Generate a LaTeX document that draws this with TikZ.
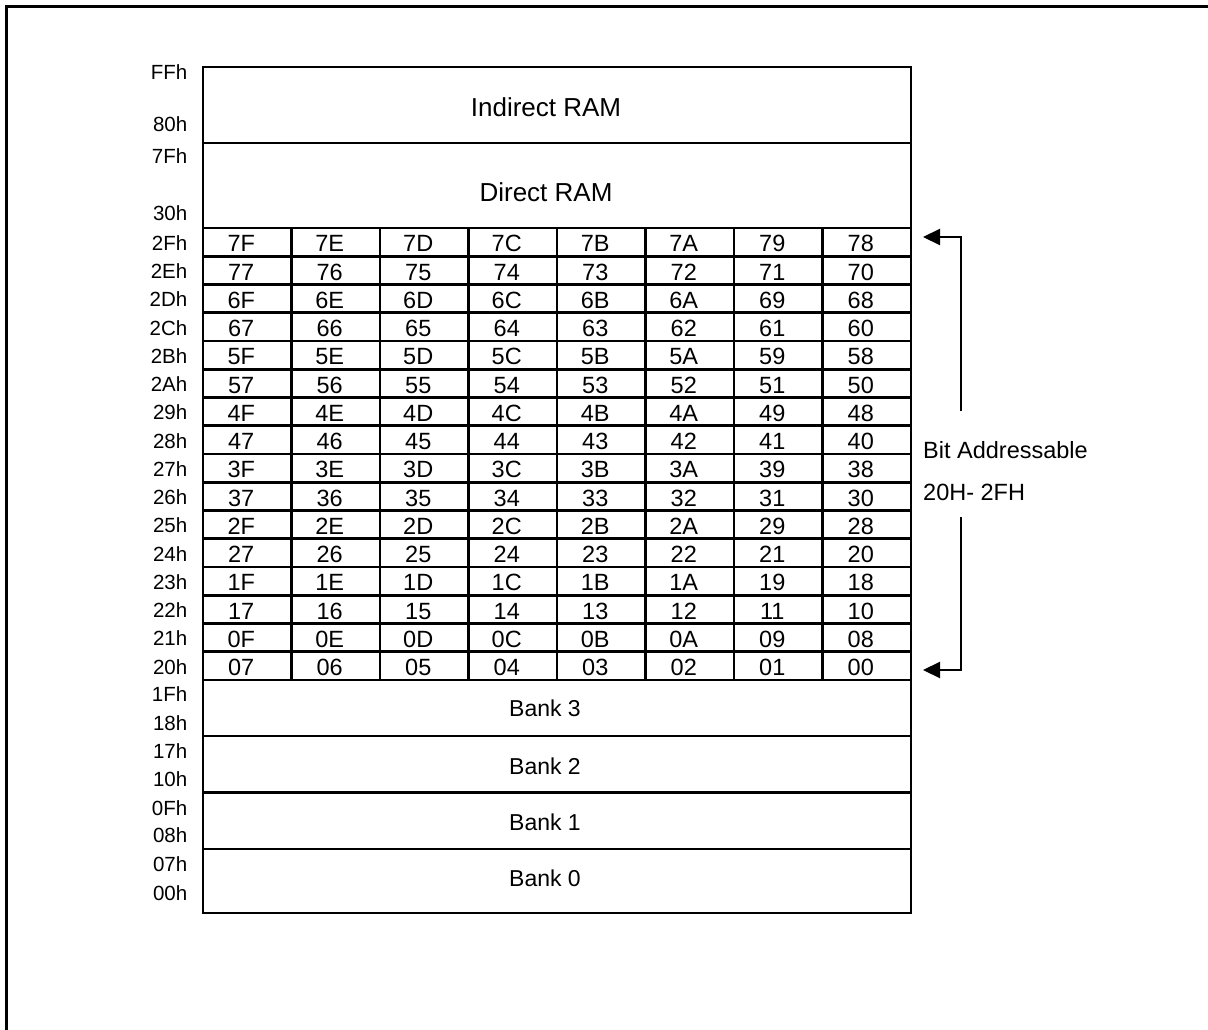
\documentclass[tikz,border=0pt]{standalone}
\usepackage{fontspec}
\setmainfont{Liberation Sans}
\usetikzlibrary{arrows.meta}
\begin{document}
\begin{tikzpicture}[x=1pt,y=-1pt,
  frame/.style={line width=3pt},
  boxline/.style={line width=2.2pt},
  rowline/.style={line width=2.8pt},
  celltxt/.style={anchor=base, inner sep=0pt, font=\fontsize{23.5}{28}\selectfont},
  addr/.style={anchor=base east, inner sep=0pt, font=\fontsize{20.5}{24}\selectfont},
  bigtxt/.style={anchor=base, inner sep=0pt, font=\fontsize{26}{30}\selectfont},
  banktxt/.style={anchor=base, inner sep=0pt, font=\fontsize{23}{28}\selectfont},
  sidetxt/.style={anchor=base west, inner sep=0pt, font=\fontsize{23.5}{28}\selectfont},
  arr/.style={line width=2.2pt, -{Triangle[length=17pt,width=16pt]}}]
\useasboundingbox (0,0) rectangle (1208,1030);
% outer frame
\draw[frame] (6.7,1030) -- (6.7,6.2) -- (1208,6.2);
% main box
\draw[boxline] (203,67) rectangle (911,913);
\draw[boxline] (203,143) -- (911,143);
\draw[boxline] (203,736) -- (911,736);
\draw[boxline] (203,792.5) -- (911,792.5);
\draw[boxline] (203,849) -- (911,849);
% grid
\foreach \k in {0,...,16} {\draw[rowline] (203,{228+\k*28.25}) -- (911,{228+\k*28.25});}
\foreach \c in {1,...,7} {\draw[boxline] ({203+\c*88.5},228) -- ({203+\c*88.5},680);}
% big labels
\node[bigtxt] (ind) at (546,116.7) {Indirect RAM};
\node[bigtxt] (dir) at (546,201.7) {Direct RAM};
\node[banktxt] (b3) at (545,716.7) {Bank 3};
\node[banktxt] (b2) at (545,774) {Bank 2};
\node[banktxt] (b1) at (545,830) {Bank 1};
\node[banktxt] (b0) at (545,886.7) {Bank 0};
% address labels
\node[addr] (aFF) at (187.5,80) {FFh};
\node[addr] (a80) at (187.5,131.7) {80h};
\node[addr] (a7F) at (187.5,164) {7Fh};
\node[addr] (a30) at (187.5,220.7) {30h};
\node[addr] (a1F) at (187.5,701.7) {1Fh};
\node[addr] (a18) at (187.5,730) {18h};
\node[addr] (a17) at (187.5,758) {17h};
\node[addr] (a10) at (187.5,786.7) {10h};
\node[addr] (a0F) at (187.5,815) {0Fh};
\node[addr] (a08) at (187.5,842.7) {08h};
\node[addr] (a07) at (187.5,871.7) {07h};
\node[addr] (a00) at (187.5,900) {00h};
% bit cells
\foreach [count=\k from 0] \lab/\r in {
  2Fh/{7F,7E,7D,7C,7B,7A,79,78},
  2Eh/{77,76,75,74,73,72,71,70},
  2Dh/{6F,6E,6D,6C,6B,6A,69,68},
  2Ch/{67,66,65,64,63,62,61,60},
  2Bh/{5F,5E,5D,5C,5B,5A,59,58},
  2Ah/{57,56,55,54,53,52,51,50},
  29h/{4F,4E,4D,4C,4B,4A,49,48},
  28h/{47,46,45,44,43,42,41,40},
  27h/{3F,3E,3D,3C,3B,3A,39,38},
  26h/{37,36,35,34,33,32,31,30},
  25h/{2F,2E,2D,2C,2B,2A,29,28},
  24h/{27,26,25,24,23,22,21,20},
  23h/{1F,1E,1D,1C,1B,1A,19,18},
  22h/{17,16,15,14,13,12,11,10},
  21h/{0F,0E,0D,0C,0B,0A,09,08},
  20h/{07,06,05,04,03,02,01,00}} {
  \node[addr] (r\k) at (187.5,{228+(\k+1)*28.25-6}) {\lab};
  \foreach [count=\c from 0] \v in \r {
    \node[celltxt] (c\k-\c) at ({203+(\c+0.5)*88.5-6},{228+(\k+1)*28.25-4.5}) {\v};
  }
}
% side label and arrows
\node[sidetxt] (bitA) at (923,458.3) {Bit Addressable};
\node[sidetxt] (bitR) at (923,500) {20H- 2FH};
\coordinate (vt) at (961,411);
\coordinate (tipT) at (923,237);
\coordinate (vb) at (961,517);
\coordinate (tipB) at (923,670);
\draw[arr] (vt) |- (tipT);
\draw[arr] (vb) |- (tipB);
\end{tikzpicture}
\end{document}
